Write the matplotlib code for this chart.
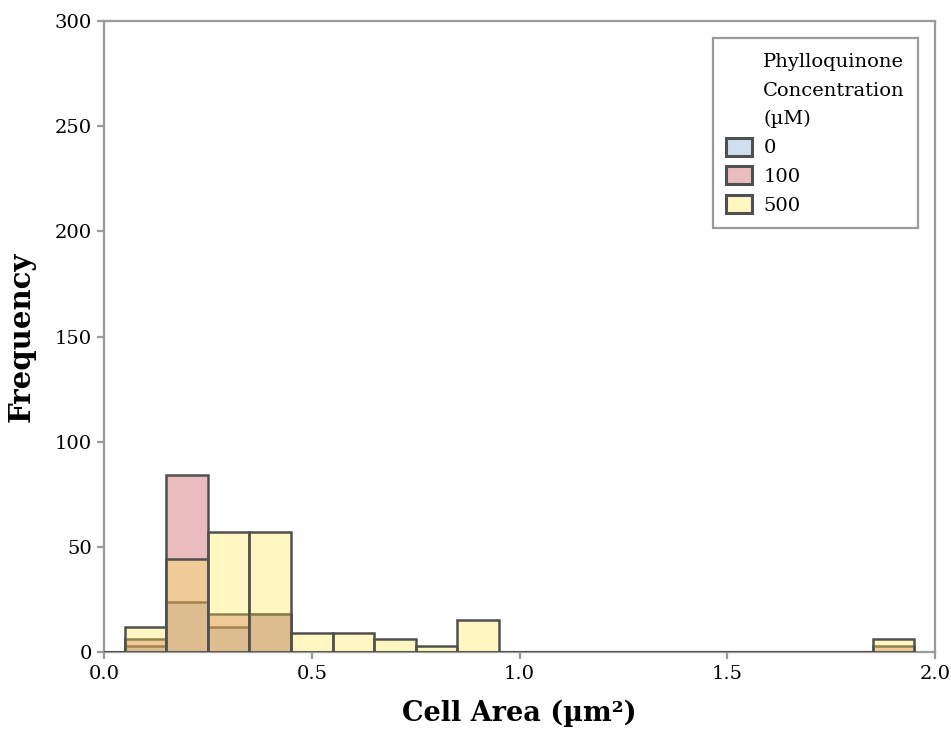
import numpy as np
import matplotlib as mpl
mpl.use('Agg')
import matplotlib.pyplot as plt
from matplotlib.patches import Patch

# histogram bins (left edges, width 0.1 um^2)
bin_left = [-0.05, 0.05, 0.15, 0.25, 0.35, 0.45, 0.55, 0.65, 0.75, 0.85,
            0.95, 1.05, 1.15, 1.25, 1.35, 1.45, 1.55, 1.65, 1.75, 1.85]
bin_width = 0.1

conc_labels = ['0', '100', '500']
counts_0 = [0, 3, 24, 12, 18, 0, 0, 0, 0, 0,
            0, 0, 0, 0, 0, 0, 0, 0, 0, 0]
counts_100 = [0, 6, 84, 18, 18, 0, 0, 0, 0, 0,
              0, 0, 0, 0, 0, 0, 0, 0, 0, 3]
counts_500 = [0, 12, 44, 57, 57, 9, 9, 6, 3, 15,
              0, 0, 0, 0, 0, 0, 0, 0, 0, 6]

x_ticks = [0.0, 0.5, 1.0, 1.5, 2.0]
y_ticks = [0, 50, 100, 150, 200, 250, 300]

base_colors = ['#79a6d4', '#c64042', '#ffe851']
fill_alpha = 0.35
edge_col = '#505050'
axis_col = '#9a9a9a'

plt.rcParams['font.family'] = ['DejaVu Serif']

fig = plt.figure(figsize=(9.51, 7.34), dpi=100)
ax = fig.add_axes([0.1094, 0.1117, 0.8738, 0.8597])

series = [counts_0, counts_100, counts_500]
for i, counts in enumerate(series):
    fc = mpl.colors.to_rgba(base_colors[i], fill_alpha)
    ax.bar(bin_left, counts, width=bin_width, align='edge',
           facecolor=fc, edgecolor=edge_col, linewidth=1.8, zorder=3 + i)

ax.set_xlim(0, 2.0)
ax.set_ylim(0, 300)
ax.set_xticks(x_ticks)
ax.set_xticklabels(['%.1f' % t for t in x_ticks])
ax.set_yticks(y_ticks)

for s in ax.spines.values():
    s.set_color(axis_col)
    s.set_linewidth(1.6)
ax.tick_params(axis='both', colors=axis_col, labelcolor='black',
               width=1.6, length=5, labelsize=14)
ax.tick_params(axis='x', pad=4)

ax.set_xlabel('Cell Area (\u00b5m\u00b2)', fontsize=19.5, fontweight='bold',
              labelpad=12)
ax.set_ylabel('Frequency', fontsize=21, fontweight='bold', labelpad=14)

# legend: title lines as blank entries so they line up with the labels
blank = Patch(facecolor='none', edgecolor='none')
handles = [blank, blank, blank]
labels = ['Phylloquinone', 'Concentration', '(\u00b5M)']
for i in range(3):
    handles.append(Patch(facecolor=mpl.colors.to_rgba(base_colors[i], fill_alpha),
                         edgecolor=edge_col, linewidth=2.2))
    labels.append(conc_labels[i])
lgd = ax.legend(handles, labels, loc='upper right', fontsize=14,
                frameon=True, fancybox=False, framealpha=1,
                edgecolor=axis_col, handlelength=1.3, handleheight=1.05,
                handletextpad=0.6, labelspacing=0.47, borderpad=0.7,
                borderaxespad=0.85)
lgd.get_frame().set_linewidth(1.6)

plt.savefig('out.png', dpi=100)
